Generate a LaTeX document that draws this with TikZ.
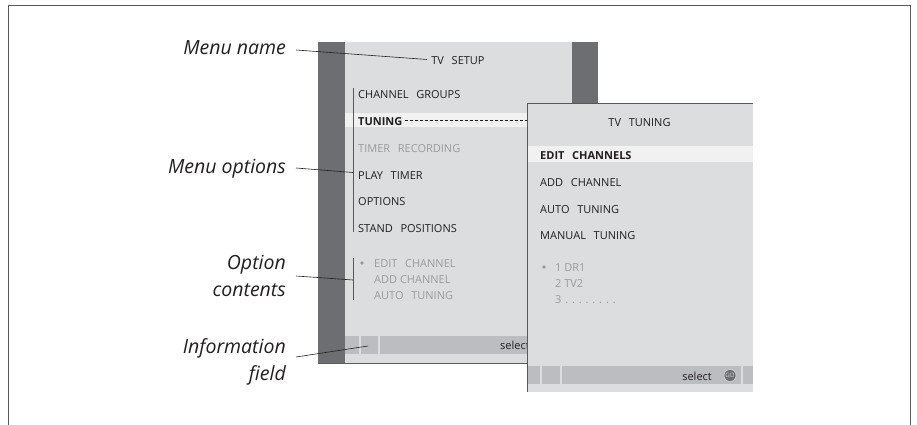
\documentclass[tikz,border=0pt]{standalone}
\usepackage{fontspec}
\setmainfont{Open Sans}
\definecolor{darkbar}{HTML}{6D6E71}
\definecolor{panelbg}{HTML}{DCDDDF}
\definecolor{hilite}{HTML}{F1F1F2}
\definecolor{strip}{HTML}{BCBDC0}
\definecolor{greytext}{HTML}{9A9B9E}
\definecolor{inktext}{HTML}{231F20}
\definecolor{framecol}{HTML}{58595B}
\newcommand{\wsp}{\hspace{0.7em}}
\begin{document}
\begin{tikzpicture}[x=1pt,y=-1pt,
  labeltext/.style={font=\fontsize{19.5}{23}\selectfont\itshape, text=inktext, anchor=base east, inner sep=0pt},
  menutext/.style={font=\fontsize{11}{13}\selectfont, text=inktext, anchor=base west, inner sep=0pt},
  menubold/.style={menutext, font=\fontsize{11}{13}\selectfont\bfseries},
  greyitem/.style={menutext, text=greytext},
  leader/.style={draw=inktext, line width=0.6pt},
  bracketline/.style={draw=framecol, line width=0.9pt},
  sepline/.style={draw=panelbg, line width=1.5pt}]
\useasboundingbox (0,0) rectangle (917,425);
% outer frame
\draw[framecol, line width=0.9pt] (8,425) -- (8,5) -- (910,5) -- (910,425);

% ---- left panel (TV SETUP)
\fill[darkbar] (318,42) rectangle (598,363);
\fill[panelbg] (345,42) rectangle (572,363);
\fill[strip] (345,336) rectangle (572,354);
\draw[sepline] (360,336) -- (360,354);
\draw[sepline] (379,336) -- (379,354);
\fill[hilite] (345,113) rectangle (527,127);
\draw[framecol, line width=0.6pt] (318,363) -- (527,363);

\node[menutext, anchor=base] (tvsetup) at (458,65) {TV\wsp SETUP};
\node[menutext] (chgroups) at (358,99) {CHANNEL\wsp GROUPS};
\node[menubold] (tuning) at (358,125) {TUNING};
\node[greyitem] (timerrec) at (358,152) {TIMER\wsp RECORDING};
\node[menutext] (playtimer) at (358,179) {PLAY\wsp TIMER};
\node[menutext] (options) at (358,205.5) {OPTIONS};
\node[menutext] (standpos) at (358,232) {STAND\wsp POSITIONS};

\coordinate (bA) at (353,88);
\coordinate (bB) at (353,232);
\draw[bracketline] (bA) -- (bB);
\coordinate (cA) at (353,258);
\coordinate (cB) at (353,300);
\draw[bracketline] (cA) -- (cB);

\fill[greytext] (362,263) circle (1.8);
\node[greyitem] (editch) at (374,267) {EDIT\wsp CHANNEL};
\node[greyitem] (addch) at (374,283) {ADD CHANNEL};
\node[greyitem] (autot) at (374,299) {AUTO\wsp TUNING};
\node[menutext] (selectA) at (500,349) {select};

% ---- right panel (TV TUNING)
\coordinate (p2tl) at (527,103);
\coordinate (p2tr) at (753,103);
\coordinate (p2bl) at (527,392);
\fill[panelbg] (p2tl) rectangle (753,392);
\fill[hilite] (527,146) rectangle (753,162);
\fill[strip] (527,366) rectangle (753,384);
\draw[sepline] (541,366) -- (541,384);
\draw[sepline] (561,366) -- (561,384);
\draw[sepline] (742,366) -- (742,384);
\draw[framecol, line width=0.8pt] (p2bl) -- (p2tl) -- (p2tr);

\coordinate (dashend) at (527,120.5);
\draw[inktext, line width=0.6pt, dash pattern=on 3pt off 2pt] ([xshift=2pt,yshift=4.5pt]tuning.base east) -- (dashend);

\node[menutext, anchor=base] (tvtuning) at (639.5,126) {TV\wsp TUNING};
\node[menubold] (editchs) at (540,159) {EDIT\wsp CHANNELS};
\node[menutext] (addch2) at (540,186) {ADD\wsp CHANNEL};
\node[menutext] (autot2) at (540,213) {AUTO\wsp TUNING};
\node[menutext] (manual) at (540,239) {MANUAL\wsp TUNING};
\fill[greytext] (544,267) circle (1.8);
\node[greyitem] (dr1) at (555,271) {1 DR1};
\node[greyitem] (tv2) at (555,287) {2 TV2};
\node[greyitem] (three) at (555,303) {3\hspace{0.35em}.\hspace{0.35em}.\hspace{0.35em}.\hspace{0.35em}.\hspace{0.35em}.\hspace{0.35em}.\hspace{0.35em}.\hspace{0.35em}.};
\node[menutext, anchor=base east] (selectB) at (712,380) {select};
\node[circle, fill=darkbar, draw=panelbg, line width=0.5pt, minimum size=12pt, inner sep=0pt, text=panelbg, font=\fontsize{6}{7}\selectfont] (gobtn) at (730,375.5) {GO};

% ---- labels
\node[labeltext] (lname) at (286,55) {Menu name};
\node[labeltext] (loptions) at (286,173.5) {Menu options};
\node[labeltext] (lopt1) at (286,269) {Option};
\node[labeltext] (lopt2) at (286,296) {contents};
\node[labeltext] (linfo1) at (286,353) {Information};
\node[labeltext] (linfo2) at (286,380) {field};

\coordinate (infotarget) at (368,346);
\draw[leader] ([xshift=10pt,yshift=5pt]lname.base east) -- ([xshift=-4pt,yshift=5.5pt]tvsetup.base west);
\draw[leader] ([xshift=10pt,yshift=5.5pt]loptions.base east) -- (bA |- 0,172.5);
\draw[leader] ([xshift=10pt,yshift=-7pt]lopt1.base east) -- (cA |- 0,280);
\draw[leader] ([xshift=10pt,yshift=-4pt]linfo1.base east) -- (infotarget);
\end{tikzpicture}
\end{document}
